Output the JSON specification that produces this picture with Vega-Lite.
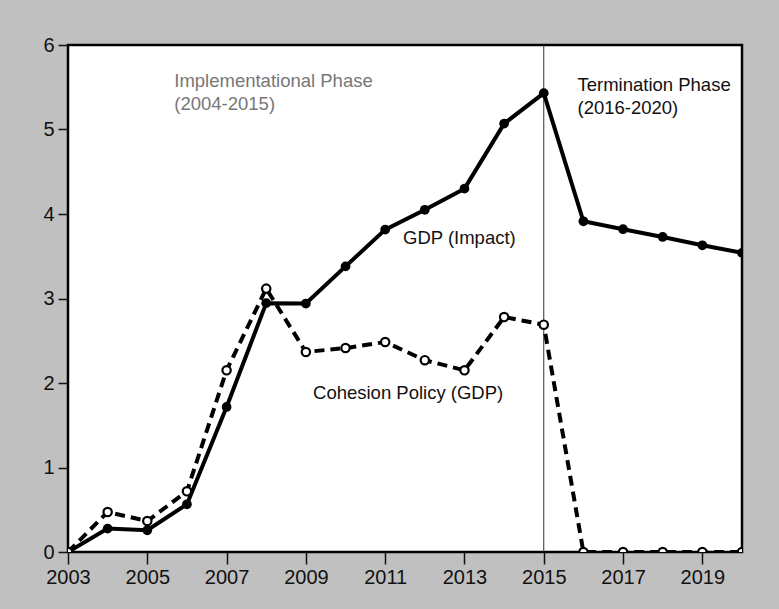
{
  "$schema": "https://vega.github.io/schema/vega-lite/v6.json",
  "autosize": "none",
  "width": 674,
  "height": 507,
  "padding": {"left": 68, "top": 45, "right": 37, "bottom": 57},
  "background": "#c0c0c0",
  "config": {
    "view": {"fill": "white", "stroke": "black", "strokeWidth": 2.5},
    "font": "Liberation Sans",
    "axis": {"labelFont": "Liberation Sans", "labelFontSize": 20, "labelColor": "#111", "tickColor": "#111", "domain": false, "grid": false, "title": null}
  },
  "datasets": {
    "gdp": [
      {"year": 2003, "value": 0.0},
      {"year": 2004, "value": 0.277},
      {"year": 2005, "value": 0.257},
      {"year": 2006, "value": 0.565},
      {"year": 2007, "value": 1.716},
      {"year": 2008, "value": 2.945},
      {"year": 2009, "value": 2.94},
      {"year": 2010, "value": 3.38},
      {"year": 2011, "value": 3.815},
      {"year": 2012, "value": 4.05},
      {"year": 2013, "value": 4.30},
      {"year": 2014, "value": 5.07},
      {"year": 2015, "value": 5.43},
      {"year": 2016, "value": 3.914},
      {"year": 2017, "value": 3.82},
      {"year": 2018, "value": 3.728},
      {"year": 2019, "value": 3.63},
      {"year": 2020, "value": 3.54}
    ],
    "cohesion": [
      {"year": 2003, "value": 0.0},
      {"year": 2004, "value": 0.473},
      {"year": 2005, "value": 0.367},
      {"year": 2006, "value": 0.718},
      {"year": 2007, "value": 2.15},
      {"year": 2008, "value": 3.117},
      {"year": 2009, "value": 2.367},
      {"year": 2010, "value": 2.414},
      {"year": 2011, "value": 2.485},
      {"year": 2012, "value": 2.27},
      {"year": 2013, "value": 2.15},
      {"year": 2014, "value": 2.78},
      {"year": 2015, "value": 2.69},
      {"year": 2016, "value": 0.0},
      {"year": 2017, "value": 0.0},
      {"year": 2018, "value": 0.0},
      {"year": 2019, "value": 0.0},
      {"year": 2020, "value": 0.0}
    ],
    "labels": [
      {"x": 2005.68, "y": 5.503, "label": "Implementational Phase\n(2004-2015)", "col": "#777777"},
      {"x": 2015.85, "y": 5.456, "label": "Termination Phase\n(2016-2020)", "col": "#111111"},
      {"x": 2011.45, "y": 3.65, "label": "GDP (Impact)", "col": "#111111"},
      {"x": 2009.18, "y": 1.815, "label": "Cohesion Policy (GDP)", "col": "#111111"}
    ],
    "vline": [{"year": 2015}]
  },
  "layer": [
    {
      "data": {"name": "vline"},
      "mark": {"type": "rule", "color": "#333333", "strokeWidth": 1},
      "encoding": {
        "x": {
          "field": "year", "type": "quantitative",
          "scale": {"domain": [2003, 2020], "nice": false, "zero": false},
          "axis": {
            "values": [2003, 2004, 2005, 2006, 2007, 2008, 2009, 2010, 2011, 2012, 2013, 2014, 2015, 2016, 2017, 2018, 2019, 2020],
            "labelExpr": "datum.value % 2 == 1 ? datum.value : ''",
            "format": "d", "tickSize": 12, "tickWidth": 1.5, "labelPadding": 3, "labelFlush": false, "labelOverlap": false
          }
        }
      }
    },
    {
      "data": {"name": "cohesion"},
      "mark": {"type": "line", "color": "black", "strokeWidth": 4, "strokeDash": [10, 6], "clip": true},
      "encoding": {
        "x": {"field": "year", "type": "quantitative"},
        "y": {
          "field": "value", "type": "quantitative",
          "scale": {"domain": [0, 6], "nice": false},
          "axis": {"values": [0, 1, 2, 3, 4, 5, 6], "format": "d", "tickSize": 10, "tickWidth": 1.5, "labelPadding": 4, "labelFlush": false}
        }
      }
    },
    {
      "data": {"name": "gdp"},
      "mark": {"type": "line", "color": "black", "strokeWidth": 4, "clip": true},
      "encoding": {
        "x": {"field": "year", "type": "quantitative"},
        "y": {"field": "value", "type": "quantitative"}
      }
    },
    {
      "data": {"name": "gdp"},
      "mark": {"type": "point", "shape": "circle", "filled": true, "color": "black", "size": 95, "opacity": 1, "clip": true},
      "encoding": {
        "x": {"field": "year", "type": "quantitative"},
        "y": {"field": "value", "type": "quantitative"}
      }
    },
    {
      "data": {"name": "cohesion"},
      "mark": {"type": "point", "shape": "circle", "filled": false, "fill": "white", "fillOpacity": 1, "stroke": "black", "strokeWidth": 2.2, "size": 70, "opacity": 1, "clip": true},
      "encoding": {
        "x": {"field": "year", "type": "quantitative"},
        "y": {"field": "value", "type": "quantitative"}
      }
    },
    {
      "data": {"name": "labels"},
      "mark": {"type": "text", "align": "left", "baseline": "alphabetic", "fontSize": 18.5, "font": "Liberation Sans", "lineBreak": "\n", "lineHeight": 23.5},
      "encoding": {
        "x": {"field": "x", "type": "quantitative"},
        "y": {"field": "y", "type": "quantitative"},
        "text": {"field": "label"},
        "color": {"field": "col", "type": "nominal", "scale": null}
      }
    }
  ]
}
